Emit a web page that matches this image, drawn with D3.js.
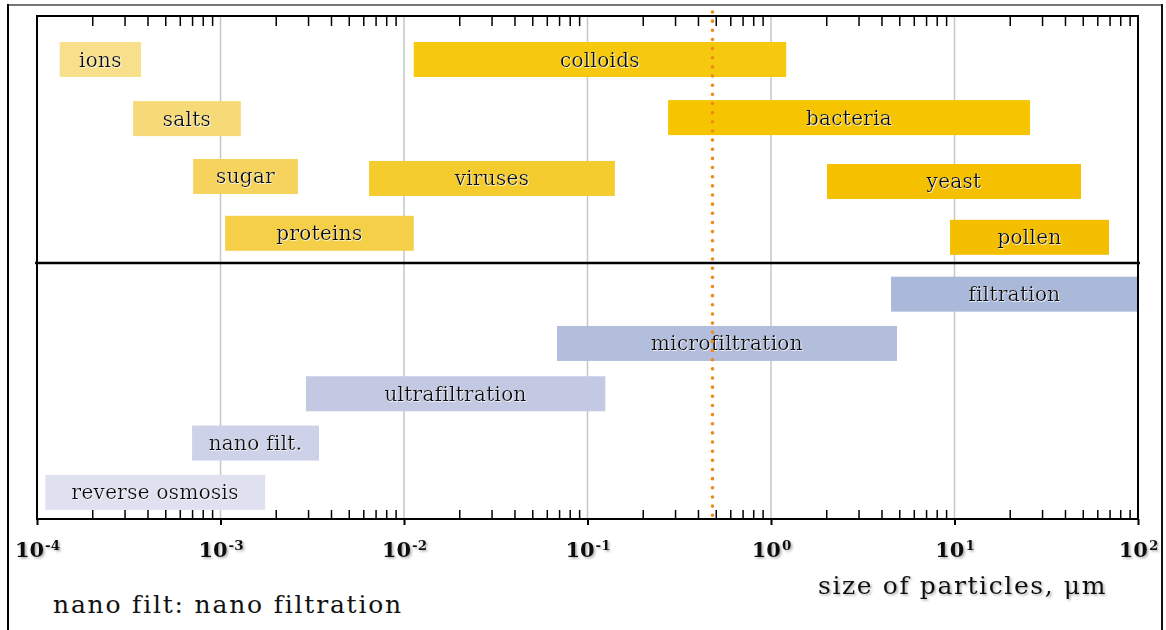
<!DOCTYPE html>
<html>
<head>
<meta charset="utf-8">
<script src="https://cdn.jsdelivr.net/npm/d3@7"></script>
<style>
  body { margin: 0; background: #fff; }
  svg { display: block; }
</style>
</head>
<body>
<svg id="chart"></svg>
<script>
// particle sizes (um) - top panel
const particles   = ["ions", "salts", "sugar", "proteins", "colloids", "bacteria", "viruses", "yeast", "pollen"];
const particleMin = [1.33e-4, 3.34e-4, 7.1e-4, 1.06e-3, 1.13e-2, 0.275, 6.45e-3, 2.02, 9.45];
const particleMax = [3.69e-4, 1.29e-3, 2.64e-3, 1.13e-2, 1.21, 25.8, 0.141, 48.9, 69.5];
// lane of each bar, in % of the plot height from the top
const particleRow = [8.65, 20.4, 31.9, 43.2, 8.65, 20.2, 32.3, 32.9, 44.0];

// separation processes - bottom panel
const processes  = ["filtration", "microfiltration", "ultrafiltration", "nano filt.", "reverse osmosis"];
const processMin = [4.51, 0.0682, 2.92e-3, 7.0e-4, 1.11e-4];
const processMax = [100, 4.86, 0.125, 3.44e-3, 1.75e-3];
const processRow = [55.3, 65.1, 75.1, 84.9, 94.7];

const dividerRow = 49.1;
const cutoff = 0.48;  // orange dotted line, um

const decades = [1e-4, 1e-3, 1e-2, 1e-1, 1e0, 1e1, 1e2];
const decadeExp = ["-4", "-3", "-2", "-1", "0", "1", "2"];

const particleColors = ["#F7DF8B", "#F6DA78", "#F5D35D", "#F5CF48", "#F6C90F", "#F6C500", "#F5CC2E", "#F4C000", "#F4BF00"];
const processColors  = ["#AAB9DA", "#B3BDDC", "#C3C8E3", "#CDD2E9", "#DFE1F0"];

function getConfig() {
  let width = 1166;
  let height = 630;
  let margin = { top: 16, left: 37, right: 28, bottom: 111 };
  let bodyWidth = width - margin.left - margin.right;
  let bodyHeight = height - margin.top - margin.bottom;
  let container = d3.select("#chart").attr("width", width).attr("height", height);
  return { width, height, margin, bodyWidth, bodyHeight, container };
}

function getScales(config) {
  let { margin, bodyWidth, bodyHeight } = config;
  let xScale = d3.scaleLog()
    .domain([1e-4, 1e2])
    .range([margin.left, margin.left + bodyWidth]);
  let yScale = d3.scaleLinear()
    .domain([0, 100])
    .range([margin.top, margin.top + bodyHeight]);
  return { xScale, yScale };
}

function drawFrame(config) {
  let { container, width, height } = config;
  let defs = container.append("defs");
  let f = defs.append("filter").attr("id", "shadow")
    .attr("x", "-10%").attr("y", "-20%").attr("width", "130%").attr("height", "150%");
  f.append("feDropShadow")
    .attr("dx", 1.5).attr("dy", 1.5).attr("stdDeviation", 0.9)
    .attr("flood-color", "#666").attr("flood-opacity", 0.55);
  let f2 = defs.append("filter").attr("id", "glow")
    .attr("x", "-10%").attr("y", "-20%").attr("width", "130%").attr("height", "150%");
  f2.append("feDropShadow")
    .attr("dx", 0.8).attr("dy", 0.8).attr("stdDeviation", 0.4)
    .attr("flood-color", "#fff").attr("flood-opacity", 0.9);

  // outer frame
  container.append("line")
    .attr("x1", 7).attr("x2", 1163).attr("y1", 5).attr("y2", 5)
    .attr("stroke", "#777").attr("stroke-width", 2);
  container.append("line")
    .attr("x1", 8).attr("x2", 8).attr("y1", 4).attr("y2", height)
    .attr("stroke", "#000").attr("stroke-width", 2);
  container.append("line")
    .attr("x1", 1162).attr("x2", 1162).attr("y1", 4).attr("y2", height)
    .attr("stroke", "#111").attr("stroke-width", 2);
}

function drawGrid(scales, config) {
  let { container, margin, bodyHeight } = config;
  let { xScale } = scales;
  let top = margin.top, bottom = margin.top + bodyHeight;

  container.append("g")
    .selectAll("line")
    .data(decades.slice(1, -1))
    .enter()
    .append("line")
      .attr("x1", d => xScale(d)).attr("x2", d => xScale(d))
      .attr("y1", top).attr("y2", bottom)
      .attr("stroke", "#C3C7C7")
      .attr("stroke-width", 1.5);

  let minor = xScale.ticks().filter(d => !decades.some(p => Math.abs(p - d) / p < 1e-9));

  // minor ticks along the top, pointing down
  container.append("g")
    .attr("transform", `translate(0,${top})`)
    .call(d3.axisTop(xScale).tickValues(minor).tickSize(-10).tickFormat(""))
    .call(g => g.select(".domain").remove())
    .call(g => g.selectAll("line").attr("stroke", "#000").attr("stroke-width", 1.5));

  // minor ticks along the bottom, pointing up
  container.append("g")
    .attr("transform", `translate(0,${bottom})`)
    .call(d3.axisBottom(xScale).tickValues(minor).tickSize(-9).tickFormat(""))
    .call(g => g.select(".domain").remove())
    .call(g => g.selectAll("line").attr("stroke", "#000").attr("stroke-width", 1.5));

  // decades: short tick below + label
  let major = container.append("g")
    .attr("transform", `translate(0,${bottom})`)
    .call(d3.axisBottom(xScale).tickValues(decades).tickSize(6))
    .call(g => g.select(".domain").remove())
    .call(g => g.selectAll("line").attr("stroke", "#000").attr("stroke-width", 2));

  major.selectAll("text")
    .text("")
    .attr("y", 38)
    .attr("dy", null)
    .attr("fill", "#111")
    .attr("font-family", "'DejaVu Serif', serif")
    .attr("font-weight", "bold")
    .attr("font-size", 21)
    .attr("filter", "url(#shadow)")
    .each(function(d, i) {
      let t = d3.select(this);
      t.append("tspan").text("10");
      t.append("tspan").attr("font-size", 13.5).attr("dx", 1).attr("dy", -7)
        .text(decadeExp[i].replace("-", "\u2011"));
    });
}

function drawBars(names, mins, maxs, rows, colors, scales, config) {
  let { container } = config;
  let { xScale, yScale } = scales;
  let barHeight = 35;
  let data = names.map((n, i) => ({ name: n, lo: mins[i], hi: maxs[i], row: rows[i], color: colors[i] }));

  let g = container.append("g");
  g.selectAll("rect")
    .data(data)
    .enter()
    .append("rect")
      .attr("x", d => xScale(d.lo))
      .attr("y", d => yScale(d.row) - barHeight / 2)
      .attr("width", d => xScale(d.hi) - xScale(d.lo))
      .attr("height", barHeight)
      .style("fill", d => d.color);

  g.selectAll("text")
    .data(data)
    .enter()
    .append("text")
      .attr("x", d => (xScale(d.lo) + xScale(d.hi)) / 2)
      .attr("y", d => yScale(d.row) + 7)
      .attr("text-anchor", "middle")
      .attr("font-family", "'DejaVu Serif', serif")
      .attr("font-size", 20)
      .attr("letter-spacing", 0.3)
      .attr("fill", "#0a0a0a")
      .attr("filter", "url(#glow)")
      .text(d => d.name);
}

function drawLines(scales, config) {
  let { container, margin, bodyWidth, bodyHeight } = config;
  let { xScale, yScale } = scales;
  let top = margin.top, bottom = margin.top + bodyHeight;
  let left = margin.left, right = margin.left + bodyWidth;

  container.append("rect")
    .attr("x", left).attr("y", top)
    .attr("width", bodyWidth).attr("height", bodyHeight)
    .attr("fill", "none").attr("stroke", "#000").attr("stroke-width", 2);

  container.append("line")
    .attr("x1", left - 2).attr("x2", right + 2)
    .attr("y1", yScale(dividerRow)).attr("y2", yScale(dividerRow))
    .attr("stroke", "#000").attr("stroke-width", 2.5);

  container.append("line")
    .attr("x1", xScale(cutoff)).attr("x2", xScale(cutoff))
    .attr("y1", top - 4).attr("y2", bottom)
    .attr("stroke", "#EE8A18")
    .attr("stroke-width", 3.6)
    .attr("stroke-linecap", "round")
    .attr("stroke-dasharray", "0 9.15");
}

function drawTexts(config) {
  let { container } = config;
  container.append("text")
    .attr("x", 818).attr("y", 594)
    .attr("font-family", "'DejaVu Serif', serif")
    .attr("font-size", 25)
    .attr("letter-spacing", 1.6)
    .attr("fill", "#111")
    .attr("filter", "url(#shadow)")
    .text("size of particles, \u03BCm");

  container.append("text")
    .attr("x", 53).attr("y", 613)
    .attr("font-family", "'DejaVu Serif', serif")
    .attr("font-size", 25)
    .attr("letter-spacing", 1.8)
    .attr("fill", "#111")
    .text("nano filt: nano filtration");
}

function showChart() {
  let config = getConfig();
  let scales = getScales(config);
  drawFrame(config);
  drawGrid(scales, config);
  drawBars(particles, particleMin, particleMax, particleRow, particleColors, scales, config);
  drawBars(processes, processMin, processMax, processRow, processColors, scales, config);
  drawLines(scales, config);
  drawTexts(config);
}

showChart();
</script>
</body>
</html>
